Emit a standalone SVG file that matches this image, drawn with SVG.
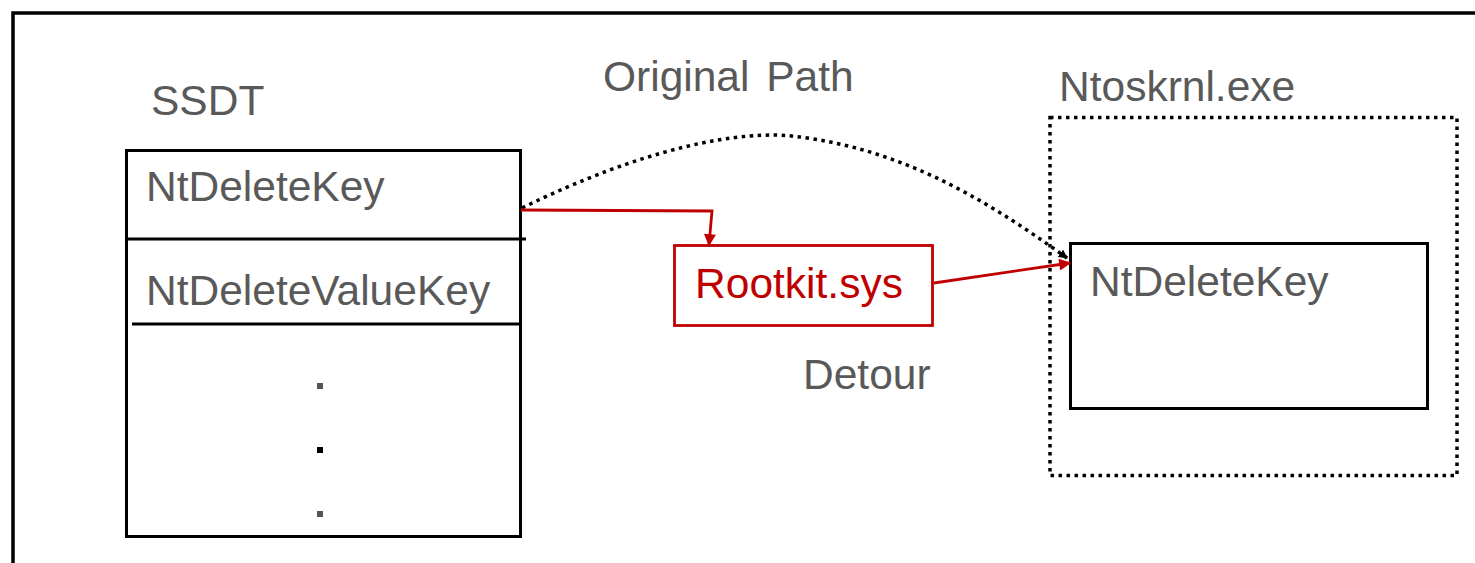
<svg xmlns="http://www.w3.org/2000/svg" width="1475" height="563" viewBox="0 0 1475 563">
<defs>
<style>
.t{font-family:"Liberation Sans",Arial,sans-serif;font-size:42.5px;fill:#595959}
.box{fill:none;stroke:#000;stroke-width:3}
.red{fill:none;stroke:#c00000;stroke-width:2.8}
</style>
<marker id="ar" viewBox="0 0 10 10" refX="9" refY="5" markerWidth="13" markerHeight="12" orient="auto" markerUnits="userSpaceOnUse"><path d="M0,0 L10,5 L0,10 z" fill="#c00000"/></marker>
<marker id="ab" viewBox="0 0 10 10" refX="9" refY="5" markerWidth="9" markerHeight="9" orient="auto" markerUnits="userSpaceOnUse"><path d="M0,0 L10,5 L0,10 z" fill="#000"/></marker>
</defs>
<rect width="1475" height="563" fill="#fff"/>
<path d="M13,563 L13,13 L1475,13" fill="none" stroke="#000" stroke-width="3.5"/>
<g id="ssdt">
<text class="t" x="151" y="115">SSDT</text>
<rect class="box" x="126.5" y="150.5" width="394" height="386"/>
<line x1="126" y1="239" x2="526" y2="239" stroke="#000" stroke-width="3"/>
<line x1="132" y1="324" x2="522" y2="324" stroke="#000" stroke-width="3"/>
<text class="t" x="146" y="201">NtDeleteKey</text>
<text class="t" x="146" y="305">NtDeleteValueKey</text>
<rect x="317" y="383" width="6" height="6" fill="#555"/>
<rect x="317" y="447" width="6" height="6" fill="#000"/>
<rect x="317" y="511" width="6" height="6" fill="#555"/>
</g>
<g id="rootkit">
<rect class="red" x="674.5" y="245.5" width="258" height="80"/>
<text class="t" x="799" y="298" text-anchor="middle" style="fill:#c00000">Rootkit.sys</text>
</g>
<g id="ntoskrnl">
<text class="t" x="1059" y="101">Ntoskrnl.exe</text>
<rect x="1050" y="117.5" width="407" height="358" fill="none" stroke="#000" stroke-width="3.5" stroke-dasharray="3.5,4.5"/>
</g>
<g id="ntdeletekey2">
<rect class="box" x="1070.5" y="243.5" width="357" height="165"/>
<text class="t" x="1090" y="296">NtDeleteKey</text>
</g>
<g id="labels">
<text class="t" x="603" y="91" style="word-spacing:5px">Original Path</text>
<text class="t" x="803" y="389">Detour</text>
</g>
<g id="connectors">
<path d="M522,208 C640,150 740,128 800,137 C900,150 980,195 1067,258" fill="none" stroke="#000" stroke-width="3.5" stroke-dasharray="3.5,4.5" marker-end="url(#ab)"/>
<path class="red" d="M521,210 L712,211 L709,245" marker-end="url(#ar)"/>
<path class="red" d="M934,283 L1070,263" marker-end="url(#ar)"/>
</g>
</svg>
